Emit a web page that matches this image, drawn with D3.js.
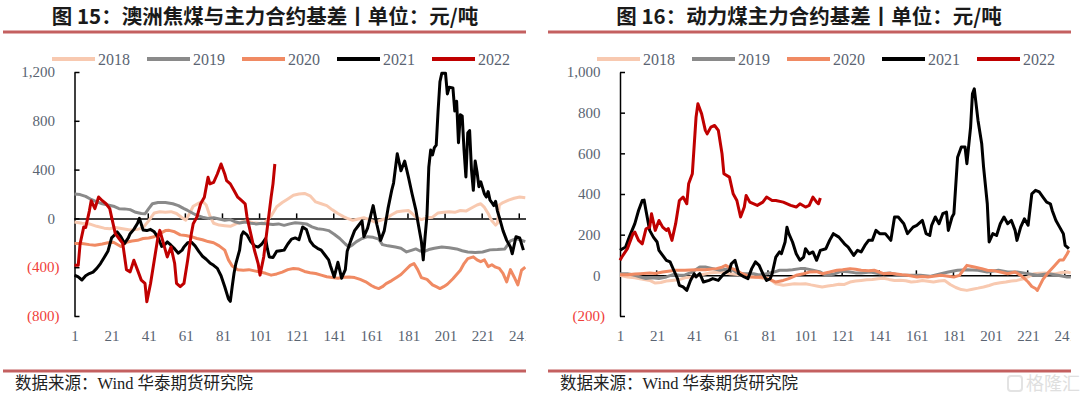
<!DOCTYPE html>
<html>
<head>
<meta charset="utf-8">
<script src="https://cdn.jsdelivr.net/npm/d3@7"></script>
<style>
  body { margin: 0; background: #fff; }
  svg { display: block; }
</style>
</head>
<body>
<div id="chart"></div>
<script>
// years shown in both legends
var years = ['2018', '2019', '2020', '2021', '2022'];
var colors = ['#f8c9b0', '#8a8a8a', '#f08a63', '#000000', '#c00000'];

// x axis labels (trading day index)
var dayTicks = [1, 21, 41, 61, 81, 101, 121, 141, 161, 181, 201, 221, 241];

// Fig 15: Australian coking coal vs main contract basis, [day, value]
var coking2018 = [[1,-30],[5,-40],[9,-45],[13,-65],[17,-80],[20,-85],[23,-75],[27,-85],[31,-95],[35,-90],[38,-75],[41,-20],[44,45],[47,55],[50,50],[53,55],[56,40],[59,5],[61,-15],[63,40],[65,100],[68,125],[70,140],[72,110],[74,20],[76,-40],[79,-55],[82,-60],[85,-65],[88,-45],[91,-30],[94,-20],[97,-35],[100,-40],[103,-45],[105,-10],[107,20],[110,95],[113,130],[116,160],[119,190],[122,200],[125,205],[128,185],[131,135],[134,120],[137,105],[140,70],[143,40],[146,15],[148,0],[151,-15],[154,-5],[157,5],[160,-10],[163,-30],[166,-15],[169,0],[172,30],[175,55],[178,60],[181,65],[183,40],[185,10],[188,-10],[191,5],[194,10],[197,45],[200,50],[203,55],[206,50],[209,65],[212,60],[215,85],[218,110],[220,120],[222,90],[224,40],[226,-20],[228,-55],[229,-40],[230,110],[232,130],[235,150],[238,165],[241,175],[244,170]];
var coking2019 = [[1,200],[4,195],[7,180],[10,155],[13,135],[16,120],[19,110],[22,100],[25,80],[28,78],[31,72],[34,50],[37,40],[39,38],[41,80],[43,120],[46,130],[50,130],[54,120],[57,105],[60,80],[62,65],[65,40],[67,25],[70,10],[73,0],[76,5],[79,-5],[82,-15],[85,-10],[88,-30],[90,-38],[93,-30],[96,-40],[99,-45],[102,-40],[105,-45],[108,-50],[111,-45],[114,-57],[117,-45],[120,-35],[123,-40],[126,-45],[129,-70],[132,-85],[135,-90],[138,-100],[141,-130],[144,-165],[147,-210],[149,-235],[151,-215],[153,-190],[156,-165],[159,-150],[162,-155],[165,-170],[167,-215],[170,-225],[174,-235],[177,-245],[180,-275],[183,-260],[185,-250],[187,-265],[189,-275],[192,-255],[195,-245],[199,-235],[203,-240],[207,-250],[210,-265],[213,-275],[217,-280],[221,-275],[225,-258],[229,-255],[233,-250],[236,-185],[239,-165],[241,-175],[244,-190]];
var coking2020 = [[1,-205],[5,-205],[9,-215],[12,-220],[16,-210],[19,-200],[22,-195],[26,-230],[29,-195],[32,-185],[35,-180],[38,-165],[41,-160],[44,-150],[47,-125],[50,-100],[52,-98],[55,-110],[58,-135],[61,-140],[64,-150],[67,-165],[70,-175],[73,-190],[76,-200],[79,-225],[82,-260],[84,-340],[86,-390],[89,-420],[92,-425],[95,-420],[98,-430],[101,-440],[104,-450],[107,-465],[110,-455],[113,-440],[116,-420],[119,-410],[122,-415],[125,-435],[128,-445],[131,-452],[134,-465],[137,-478],[140,-485],[143,-490],[146,-482],[149,-480],[152,-485],[155,-500],[158,-520],[161,-550],[163,-565],[165,-575],[167,-560],[169,-535],[172,-510],[175,-480],[177,-460],[180,-415],[182,-385],[184,-370],[186,-420],[188,-485],[191,-500],[194,-545],[196,-560],[198,-575],[200,-560],[202,-540],[205,-495],[207,-460],[209,-425],[211,-370],[213,-330],[216,-315],[218,-340],[220,-355],[222,-340],[224,-395],[226,-380],[228,-400],[230,-410],[232,-450],[234,-520],[236,-420],[238,-480],[240,-545],[242,-425],[244,-400]];
var coking2021 = [[1,-465],[3,-480],[5,-505],[7,-470],[9,-452],[11,-440],[13,-410],[15,-370],[17,-320],[19,-270],[21,-160],[23,-130],[24,-110],[26,-150],[28,-205],[30,-160],[31,-125],[33,-90],[35,-40],[36,0],[38,-95],[40,-100],[42,-90],[44,-110],[46,-155],[48,-230],[50,-210],[51,-193],[53,-220],[55,-250],[57,-285],[59,-260],[60,-234],[62,-200],[64,-195],[66,-225],[68,-270],[70,-310],[72,-335],[74,-365],[76,-385],[78,-410],[80,-470],[82,-560],[84,-660],[85,-680],[86,-560],[87,-450],[88,-370],[90,-260],[91,-140],[92,-110],[94,-135],[96,-190],[98,-225],[100,-235],[102,-210],[104,-165],[105,-250],[106,-316],[108,-320],[110,-270],[112,-265],[114,-260],[116,-210],[118,-170],[120,-160],[122,-175],[124,-70],[126,-90],[128,-185],[130,-225],[132,-245],[134,-260],[136,-300],[138,-340],[139,-390],[141,-480],[143,-360],[145,-490],[147,-420],[148,-270],[150,-180],[152,-100],[154,-60],[156,-20],[157,-150],[159,-80],[162,105],[164,-50],[166,-180],[168,-100],[170,80],[172,230],[173,290],[175,530],[177,390],[179,470],[181,340],[183,200],[185,70],[186,-20],[188,-190],[189,-340],[190,-150],[191,20],[192,420],[193,560],[194,520],[195,580],[196,600],[197,880],[198,1120],[199,1190],[201,1190],[202,1020],[203,1075],[205,1070],[206,880],[207,960],[208,620],[209,850],[210,840],[211,560],[212,340],[213,700],[214,720],[215,400],[216,230],[217,470],[218,380],[219,260],[220,300],[221,250],[222,200],[223,175],[224,220],[225,150],[226,130],[227,105],[228,140],[229,60],[230,10],[232,-100],[234,-180],[236,-235],[237,-290],[239,-150],[241,-160],[243,-260]];
var coking2022 = [[1,-385],[3,-385],[4,-210],[6,-70],[7,-75],[9,60],[10,145],[12,80],[14,175],[16,145],[18,120],[20,80],[21,10],[23,-125],[25,-165],[27,-205],[29,-420],[31,-438],[33,-343],[35,-424],[37,-506],[39,-533],[40,-683],[42,-533],[44,-343],[46,-152],[47,-98],[49,-207],[51,-316],[53,-234],[55,-370],[56,-533],[58,-560],[60,-533],[62,-343],[64,-125],[65,-44],[67,11],[69,120],[71,174],[73,337],[74,283],[76,296],[78,364],[80,446],[82,364],[83,310],[85,283],[87,228],[89,174],[91,147],[93,120],[94,11],[96,-125],[98,-261],[100,-370],[101,-465],[103,-316],[105,-70],[107,174],[108,283],[109,446]];

// Fig 16: thermal coal vs main contract basis, [day, value]
var thermal2018 = [[1,0],[5,-8],[9,-12],[11,-16],[14,-20],[17,-25],[20,-38],[23,-35],[26,-28],[29,-25],[33,-21],[36,-12],[39,-8],[42,-3],[45,3],[49,11],[52,14],[55,16],[58,12],[60,8],[63,5],[66,3],[69,0],[72,-5],[76,-11],[79,-16],[82,-21],[85,-41],[89,-49],[92,-45],[95,-41],[98,-43],[101,-41],[104,-47],[107,-52],[110,-57],[113,-52],[116,-49],[119,-44],[122,-45],[125,-33],[128,-28],[131,-25],[134,-22],[137,-21],[140,-17],[143,-14],[146,-20],[149,-25],[152,-24],[155,-27],[158,-33],[161,-30],[164,-25],[167,-29],[170,-33],[173,-28],[176,-25],[179,-45],[182,-60],[185,-70],[188,-74],[191,-68],[194,-63],[197,-57],[200,-50],[203,-41],[206,-36],[209,-33],[212,-28],[215,-25],[218,-18],[221,-8],[224,8],[227,10],[230,11],[233,9],[236,8],[239,14],[242,16],[244,12]];
var thermal2019 = [[1,8],[5,8],[9,0],[12,-8],[15,-16],[18,-12],[22,-16],[26,-8],[30,5],[33,0],[36,2],[40,16],[44,41],[47,41],[51,33],[55,25],[58,30],[62,25],[65,8],[69,8],[73,8],[76,2],[80,8],[84,16],[87,25],[91,25],[94,28],[98,33],[101,33],[105,25],[109,16],[112,0],[116,5],[120,20],[124,18],[128,12],[131,11],[136,16],[141,8],[147,11],[152,0],[158,0],[163,0],[168,-5],[174,8],[178,16],[183,25],[188,28],[194,25],[199,16],[205,25],[210,16],[215,16],[221,8],[226,0],[232,8],[237,0],[242,-8],[244,-8]];
var thermal2020 = [[1,3],[5,3],[9,6],[12,8],[17,11],[20,9],[24,16],[28,21],[31,25],[36,25],[42,28],[47,28],[53,33],[56,40],[58,49],[60,38],[63,28],[66,12],[68,5],[71,-8],[74,-10],[78,-8],[82,-21],[85,-33],[89,-25],[92,-16],[96,0],[100,8],[103,16],[107,18],[110,8],[114,16],[118,25],[121,28],[125,33],[128,30],[131,25],[135,22],[138,25],[141,15],[143,8],[146,10],[149,8],[153,3],[156,0],[159,-5],[161,-8],[164,-6],[167,-8],[170,-5],[174,0],[177,-3],[181,-8],[184,0],[186,25],[188,49],[190,45],[192,41],[196,33],[199,25],[203,22],[206,16],[210,8],[214,16],[217,0],[219,-15],[221,-33],[223,-55],[225,-65],[226,-74],[229,-20],[232,15],[235,45],[238,75],[240,75],[242,105],[243,123]];
var thermal2021 = [[1,123],[4,139],[6,188],[9,254],[11,319],[13,368],[14,370],[15,319],[17,221],[19,188],[21,164],[22,123],[24,98],[26,74],[28,66],[30,25],[32,-16],[33,-49],[35,-57],[37,-74],[39,-25],[41,8],[42,-8],[44,8],[46,-33],[49,-25],[51,-16],[54,-25],[57,8],[60,25],[61,57],[63,74],[65,8],[68,-8],[70,-16],[72,33],[74,66],[76,49],[78,8],[80,-25],[82,-16],[83,8],[85,90],[87,115],[88,106],[90,164],[91,237],[92,205],[94,164],[96,106],[98,74],[100,90],[101,131],[103,106],[105,115],[107,74],[109,123],[112,131],[114,172],[116,205],[119,188],[122,155],[124,139],[127,98],[129,123],[131,115],[133,147],[135,172],[137,172],[139,221],[141,205],[144,205],[147,172],[149,287],[151,287],[154,254],[156,205],[159,237],[161,246],[164,270],[166,205],[168,196],[169,246],[171,287],[173,254],[175,303],[177,311],[178,221],[180,287],[181,303],[183,581],[185,631],[187,631],[188,549],[190,729],[191,893],[192,917],[194,762],[196,647],[197,532],[199,352],[200,164],[202,205],[204,196],[206,254],[208,287],[210,254],[212,270],[214,221],[215,172],[217,237],[219,278],[221,246],[223,401],[225,418],[227,410],[229,385],[231,360],[233,352],[234,319],[236,270],[238,237],[240,205],[241,147],[243,131]];
var thermal2022 = [[1,74],[2,90],[5,131],[8,205],[9,213],[11,172],[13,155],[15,229],[17,237],[18,303],[20,221],[22,270],[24,237],[26,221],[27,230],[29,172],[31,254],[33,368],[35,385],[37,352],[38,450],[40,500],[42,778],[43,844],[45,794],[47,713],[48,696],[50,729],[52,737],[54,713],[56,598],[57,500],[60,483],[62,401],[64,368],[66,287],[68,336],[69,393],[71,360],[75,344],[78,360],[80,385],[83,368],[85,368],[89,360],[93,344],[96,336],[98,352],[101,336],[103,344],[105,385],[107,360],[108,352],[109,380]];

var cokingTicks = [1200, 800, 400, 0, -400, -800];
var thermalTicks = [1000, 800, 600, 400, 200, 0, -200];

var width = 1080, height = 397;

var svg = d3.select("#chart")
  .append("svg")
  .attr("width", width)
  .attr("height", height);

var fmt = d3.format(",");
var serif = "'Liberation Serif', 'Times New Roman', 'Noto Sans CJK SC', serif";

function drawPanel(opts) {
  var clipId = 'clip-' + opts.id;
  svg.append("clipPath").attr("id", clipId)
    .append("rect")
    .attr("x", opts.left).attr("y", 0)
    .attr("width", opts.right - opts.left).attr("height", height);

  var g = svg.append("g").attr("clip-path", `url(#${clipId})`);

  // title
  g.append("text")
    .attr("x", opts.titleX)
    .attr("y", 24)
    .attr("text-anchor", "middle")
    .style("font-family", "'Noto Sans CJK SC', sans-serif")
    .style("font-weight", "bold")
    .style("font-size", "20.5px")
    .style("fill", "#1a1a1a")
    .text(opts.title);

  // red rules
  g.append("line")
    .attr("x1", opts.left + 3).attr("x2", opts.right)
    .attr("y1", 32).attr("y2", 32)
    .style("stroke", "#c46060").style("stroke-width", 3);
  g.append("line")
    .attr("x1", opts.left + 3).attr("x2", opts.right)
    .attr("y1", 371).attr("y2", 371)
    .style("stroke", "#c46060").style("stroke-width", 3);

  // Add X scale
  var xScale = d3.scaleLinear()
    .domain([1, 245])
    .range([opts.x0, opts.x0 + 244 * 1.855]);

  // Add Y scale
  var yScale = d3.scaleLinear()
    .domain(opts.yDomain)
    .range([316, 72]);

  // Render X ticks on zero line
  g.append("g")
    .attr("transform", `translate(0,${yScale(0)})`)
    .call(d3.axisBottom(xScale)
      .tickValues(dayTicks.slice(1).map(d => d - 0.5))
      .tickSize(-5)
      .tickFormat(""))
    .call(a => a.select(".domain").attr("d", `M${opts.x0},0.5H${xScale(245)}`))
    .style("color", "black")
    .selectAll("line, path").style("stroke-width", 1.5);

  // X labels at bottom
  var xLab = g.append("g")
    .attr("transform", "translate(0,330)")
    .call(d3.axisBottom(xScale)
      .tickValues(dayTicks)
      .tickSize(0)
      .tickPadding(0));
  xLab.select(".domain").remove();
  xLab.selectAll("text")
    .style("font-family", serif)
    .style("font-size", "15px")
    .style("fill", "#5a6472");

  // Y axis line with inside ticks
  g.append("g")
    .attr("transform", `translate(${opts.x0},0)`)
    .call(d3.axisRight(yScale)
      .tickValues(opts.yTicks)
      .tickSize(5)
      .tickSizeOuter(0)
      .tickFormat(""))
    .style("color", "black")
    .selectAll("line, path").style("stroke-width", 1.5);

  // Y labels
  g.append("g").selectAll("text")
    .data(opts.yTicks)
    .enter()
    .append("text")
    .attr("x", d => d < 0 ? opts.x0 - 15 : opts.x0 - 19.5)
    .attr("y", d => yScale(d))
    .attr("dy", "0.35em")
    .attr("text-anchor", "end")
    .style("font-family", serif)
    .style("font-size", "15px")
    .style("fill", d => d < 0 ? "#f0403a" : "#5a6472")
    .text(d => d < 0 ? `(${fmt(-d)})` : fmt(d));

  // lines
  var line = d3.line()
    .x(d => xScale(d[0]))
    .y(d => yScale(d[1]));

  g.append("g").attr("class", "lines")
    .selectAll("path")
    .data(opts.series)
    .enter()
    .append("path")
    .attr("d", d => line(d))
    .style("fill", "none")
    .style("stroke", (d, i) => colors[i])
    .style("stroke-width", 3)
    .style("stroke-linejoin", "round");

  // legend
  var leg = g.append("g").attr("class", "legend")
    .selectAll("g")
    .data(years)
    .enter()
    .append("g")
    .attr("transform", (d, i) => `translate(${opts.legendX + i * 95},59)`);
  leg.append("line")
    .attr("x1", 0).attr("x2", 43)
    .style("stroke", (d, i) => colors[i])
    .style("stroke-width", 4);
  leg.append("text")
    .attr("x", 46)
    .attr("dy", "0.35em")
    .style("font-family", serif)
    .style("font-size", "16px")
    .style("fill", "#5a6472")
    .text(d => d);

  // source note
  g.append("text")
    .attr("x", opts.left + 15)
    .attr("y", 389)
    .style("font-family", serif)
    .style("font-size", "16.5px")
    .style("fill", "#222")
    .text("数据来源：Wind  华泰期货研究院");
}

drawPanel({
  id: 'coking', left: 0, right: 526, x0: 74.5, titleX: 265, legendX: 52,
  title: '图 15：澳洲焦煤与主力合约基差丨单位：元/吨',
  yDomain: [-800, 1200], yTicks: cokingTicks,
  series: [coking2018, coking2019, coking2020, coking2021, coking2022]
});

drawPanel({
  id: 'thermal', left: 545, right: 1071, x0: 620, titleX: 809, legendX: 597,
  title: '图 16：动力煤主力合约基差丨单位：元/吨',
  yDomain: [-200, 1000], yTicks: thermalTicks,
  series: [thermal2018, thermal2019, thermal2020, thermal2021, thermal2022]
});

// watermark
var wm = svg.append("g").attr("transform", "translate(1008,384)").style("opacity", 0.5);
wm.append("rect")
  .attr("x", 0).attr("y", -8).attr("width", 14).attr("height", 15).attr("rx", 3)
  .style("fill", "none").style("stroke", "#c8c8c8").style("stroke-width", 2);
wm.append("text")
  .attr("x", 18).attr("dy", "0.35em")
  .style("font-family", "'Noto Sans CJK SC', sans-serif")
  .style("font-size", "18px")
  .style("fill", "#c0c0c0")
  .text("格隆汇");
</script>
</body>
</html>
